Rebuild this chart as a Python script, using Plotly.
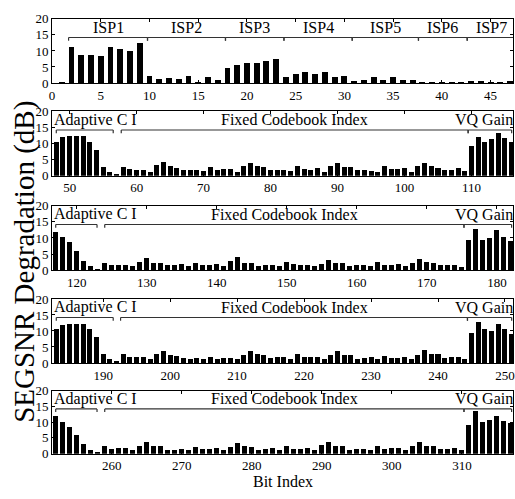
import plotly.graph_objects as go

# ---------------- data ----------------
p1_bits = list(range(1, 48))
p1_vals = [0.1, 11.2, 8.6, 8.8, 8.5, 11.3, 10.6, 10.1, 12.4,
           2.3, 1.3, 1.5, 1.2, 2.2, 0.4, 1.9, 1.1,
           4.7, 5.6, 6.2, 6.2, 7.0, 7.5,
           2.0, 2.9, 3.3, 2.7, 3.3, 1.8, 2.3,
           0.7, 0.9, 1.8, 0.8, 1.9, 1.1, 0.8,
           0.3, 0.3, 0.3, 0.3, 0.3,
           0.7, 0.6, 0.2, 0.2, 0.5]

p2_bits = list(range(48, 117))
p2_vals = [10.5, 12.0, 12.3, 12.1, 12.1, 10.3, 8.0, 2.7, 1.2, 0.6,
           2.7, 2.0, 1.8, 1.8, 1.2, 3.2, 4.2, 3.0, 2.4, 1.8,
           1.8, 1.8, 1.3, 2.7, 1.8, 2.0, 2.0, 1.2, 3.0, 4.0,
           2.8, 2.6, 1.8, 1.8, 1.8, 1.4, 2.8, 2.0, 1.8, 2.2,
           1.2, 2.8, 3.8, 2.6, 2.6, 1.6, 1.6, 1.5, 1.2, 3.0,
           2.0, 2.0, 2.2, 1.2, 2.8, 3.8, 2.8, 2.2, 1.6, 1.6,
           2.2, 1.3,
           9.3, 12.0, 10.5, 11.3, 13.3, 11.5, 10.3]

p3_bits = list(range(117, 183))
p3_vals = [12.0, 10.5, 8.8, 6.0, 2.8, 1.2, 0.5,
           2.4, 1.6, 1.6, 1.8, 1.2, 2.7, 3.9, 2.2, 2.4, 1.6,
           1.6, 2.0, 1.3, 2.3, 1.6, 1.7, 2.0, 1.2, 2.8, 4.0,
           2.4, 2.4, 1.4, 1.6, 1.8, 1.2, 2.6, 2.0, 1.8, 1.8,
           1.2, 2.0, 3.3, 2.3, 2.2, 1.4, 1.6, 1.6, 1.2, 2.5,
           1.6, 1.6, 2.0, 1.3, 2.4, 3.6, 2.7, 2.2, 1.6, 1.6,
           1.6, 1.0,
           9.3, 12.7, 9.5, 10.0, 12.5, 10.3, 9.2]

p4_bits = list(range(183, 252))
p4_vals = [10.5, 12.0, 12.2, 12.2, 12.2, 10.5, 8.0, 2.8, 1.3, 0.6,
           2.7, 1.8, 1.8, 1.8, 1.3, 2.8, 3.7, 2.6, 2.3, 1.6,
           1.3, 1.6, 1.3, 2.0, 1.4, 1.6, 1.6, 1.4, 2.6, 3.8,
           2.8, 2.6, 1.7, 1.8, 1.8, 1.4, 2.8, 2.0, 2.0, 2.0,
           1.2, 2.4, 3.7, 2.5, 2.5, 1.4, 1.6, 1.8, 1.4, 2.3,
           1.6, 1.6, 1.8, 1.2, 2.6, 4.0, 2.8, 2.8, 1.6, 1.8,
           1.8, 1.4,
           9.5, 12.8, 10.5, 10.0, 12.2, 10.5, 9.2]

p5_bits = list(range(252, 318))
p5_vals = [12.0, 10.2, 8.5, 6.0, 3.2, 1.3, 0.7,
           2.5, 1.6, 1.8, 1.8, 1.3, 2.6, 3.7, 2.4, 2.4, 1.4,
           1.4, 1.6, 1.3, 2.2, 1.5, 1.6, 1.8, 1.2, 2.3, 3.5,
           2.4, 2.1, 1.4, 1.5, 1.8, 1.2, 2.5, 1.6, 1.6, 1.8,
           1.2, 2.8, 3.8, 2.6, 2.5, 1.4, 1.6, 1.6, 1.2, 2.5,
           1.6, 1.8, 1.8, 1.2, 2.6, 3.8, 2.6, 2.6, 1.6, 1.6,
           2.0, 1.4,
           9.3, 13.5, 10.2, 10.8, 12.2, 10.5, 9.7]

# bracket groups: (start, end, label)
p1_groups = [(1.7, 9.8, "ISP1"), (9.8, 17.8, "ISP2"), (17.8, 23.8, "ISP3"),
             (23.8, 30.8, "ISP4"), (30.8, 37.6, "ISP5"), (37.6, 42.6, "ISP6"),
             (42.6, 47.5, "ISP7")]
p2_groups = [(48.0, 56.5, "Adaptive C I"), (57.7, 109.5, "Fixed Codebook Index"), (109.5, 116.0, "VQ Gain")]
p3_groups = [(117.0, 122.9, "Adaptive C I"), (124.0, 175.3, "Fixed Codebook Index"), (175.3, 182.1, "VQ Gain")]
p4_groups = [(183.0, 191.5, "Adaptive C I"), (192.6, 244.4, "Fixed Codebook Index"), (244.4, 251.0, "VQ Gain")]
p5_groups = [(252.0, 257.9, "Adaptive C I"), (259.0, 310.3, "Fixed Codebook Index"), (310.3, 317.1, "VQ Gain")]

y_ticks = [0, 5, 10, 15, 20]
p1_xticks = [0, 5, 10, 15, 20, 25, 30, 35, 40, 45]
p2_xticks = [50, 60, 70, 80, 90, 100, 110]
p3_xticks = [120, 130, 140, 150, 160, 170, 180]
p4_xticks = [190, 200, 210, 220, 230, 240, 250]
p5_xticks = [260, 270, 280, 290, 300, 310]

# ---------------- layout ----------------
W, H = 515, 499
FONT = "Liberation Serif, Times New Roman, serif"

panels = [
    dict(bits=p1_bits, vals=p1_vals, groups=p1_groups, xt=p1_xticks, xr=[0, 47.3], px=(12.3, 78.3), bw=0.6),
    dict(bits=p2_bits, vals=p2_vals, groups=p2_groups, xt=p2_xticks, xr=[47.36, 116.2], px=(107.5, 174.0), bw=0.75),
    dict(bits=p3_bits, vals=p3_vals, groups=p3_groups, xt=p3_xticks, xr=[116.47, 182.3], px=(205.0, 271.3), bw=0.72),
    dict(bits=p4_bits, vals=p4_vals, groups=p4_groups, xt=p4_xticks, xr=[182.36, 251.2], px=(301.0, 367.0), bw=0.75),
    dict(bits=p5_bits, vals=p5_vals, groups=p5_groups, xt=p5_xticks, xr=[251.47, 317.3], px=(395.5, 460.5), bw=0.72),
]

fig = go.Figure()
shapes = []
annotations = []
BR_Y, BR_TICK, LAB_Y = 14.2, 13.2, 17.4

for i, p in enumerate(panels, start=1):
    sfx = "" if i == 1 else str(i)
    fig.add_trace(go.Bar(x=p["bits"], y=p["vals"], width=p["bw"],
                         marker=dict(color="black", line=dict(width=0)),
                         xaxis="x" + sfx, yaxis="y" + sfx, showlegend=False))
    top, bot = p["px"]
    fig.layout["xaxis" + sfx] = dict(
        domain=[0, 1], anchor="y" + sfx, range=p["xr"], tickvals=p["xt"],
        ticks="inside", ticklen=3, tickcolor="black", showline=True, linecolor="black",
        linewidth=1, mirror="ticks", showgrid=False, zeroline=False,
        tickfont=dict(family=FONT, size=13, color="black"))
    fig.layout["yaxis" + sfx] = dict(
        domain=[1 - bot / H, 1 - top / H], anchor="x" + sfx, range=[0, 20], tickvals=y_ticks,
        ticks="inside", ticklen=3, tickcolor="black", showline=True, linecolor="black",
        linewidth=1, mirror="ticks", showgrid=False, zeroline=False,
        tickfont=dict(family=FONT, size=13, color="black"))
    xr, yr = "x" + sfx, "y" + sfx
    ng = len(p["groups"])
    for k, (a, b, lab) in enumerate(p["groups"]):
        lc = dict(color="#333333", width=1.2)
        shapes.append(dict(type="line", xref=xr, yref=yr, x0=a, x1=b, y0=BR_Y, y1=BR_Y, line=lc))
        shapes.append(dict(type="line", xref=xr, yref=yr, x0=a, x1=a, y0=BR_TICK, y1=BR_Y, line=lc))
        shapes.append(dict(type="line", xref=xr, yref=yr, x0=b, x1=b, y0=BR_TICK, y1=BR_Y, line=lc))
        if i == 1:
            xa, xpos, xs = "center", (a + b) / 2, 0
        elif k == 0:
            xa, xpos, xs = "left", a, -4
        elif k == ng - 1:
            xa, xpos, xs = "right", b, 3
        else:
            xa, xpos, xs = "center", (a + b) / 2, 0
        annotations.append(dict(text=lab, x=xpos, y=LAB_Y, xref=xr, yref=yr, xanchor=xa,
                                yanchor="middle", xshift=xs, showarrow=False,
                                font=dict(family=FONT, size=16, color="black")))

annotations.append(dict(text="SEGSNR Degradation (dB)", x=-52 / 513, y=1 - 263 / H,
                        xref="paper", yref="paper", xanchor="left", yanchor="middle",
                        textangle=-90, showarrow=False,
                        font=dict(family=FONT, size=29, color="black")))
annotations.append(dict(text="Bit Index", x=(283 - 52) / 461, y=0,
                        xref="paper", yref="paper", xanchor="center", yanchor="bottom",
                        showarrow=False, borderpad=0,
                        font=dict(family=FONT, size=16, color="black")))

fig.update_layout(width=W, height=H, margin=dict(l=52, r=2, t=0, b=0),
                  paper_bgcolor="white", plot_bgcolor="white", bargap=0,
                  shapes=shapes, annotations=annotations, showlegend=False)

fig.write_html("out.html")
